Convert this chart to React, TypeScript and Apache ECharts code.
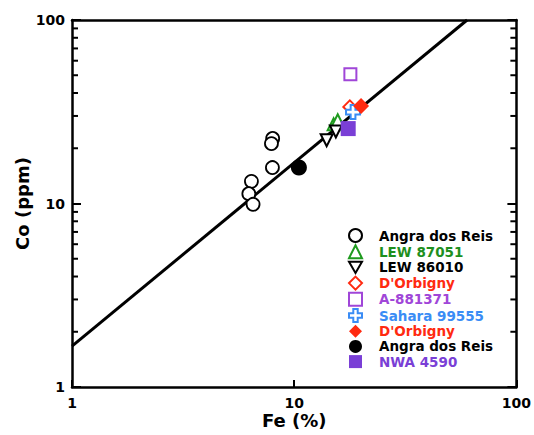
import React, { useEffect, useRef } from "react";
import * as echarts from "echarts";

// ---- data ----
const angraOpenFe = [8.0, 7.9, 7.98, 6.42, 6.25, 6.53];
const angraOpenCo = [22.6, 21.2, 15.7, 13.2, 11.3, 9.9];
const lew87051Fe = [15.05, 15.7];
const lew87051Co = [27.0, 28.4];
const lew86010Fe = [14.0, 15.4];
const lew86010Co = [22.1, 24.7];
const dorbOpenFe = [17.8];
const dorbOpenCo = [33.6];
const a881371Fe = [17.9];
const a881371Co = [50.7];
const saharaFe = [18.4];
const saharaCo = [31.5];
const dorbFilledFe = [20.0];
const dorbFilledCo = [34.0];
const angraFilledFe = [10.5];
const angraFilledCo = [15.7];
const nwaFe = [17.5];
const nwaCo = [25.6];

const trendFe = [1, 60];
const trendCo = [1.67, 100];

const minorCo = [2, 3, 4, 5, 6, 7, 8, 9, 20, 30, 40, 50, 60, 70, 80, 90];
const xTicks = [1, 10, 100];
const yTicks = [1, 10, 100];

const FONT = "DejaVu Sans";

const zip = (a: number[], b: number[]) => a.map((v, i) => [v, b[i]]);

const TRI_DOWN = "path://M0,0 L10,0 L5,8.66 Z";
const CROSS = "path://M3.3,0 H6.7 V3.3 H10 V6.7 H6.7 V10 H3.3 V6.7 H0 V3.3 H3.3 Z";

type Def = {
  id: string;
  label: string;
  fe: number[];
  co: number[];
  symbol: string;
  size: number;
  fill: string;
  stroke: string;
  bw: number;
  text: string;
};

const defs: Def[] = [
  { id: "Angra dos Reis", label: "Angra dos Reis", fe: angraOpenFe, co: angraOpenCo, symbol: "circle", size: 13, fill: "#ffffff", stroke: "#000000", bw: 1.8, text: "#000000" },
  { id: "LEW 87051", label: "LEW 87051", fe: lew87051Fe, co: lew87051Co, symbol: "triangle", size: 12, fill: "#ffffff", stroke: "#1e9a1e", bw: 2, text: "#1e8f1e" },
  { id: "LEW 86010", label: "LEW 86010", fe: lew86010Fe, co: lew86010Co, symbol: TRI_DOWN, size: 12, fill: "#ffffff", stroke: "#000000", bw: 2, text: "#000000" },
  { id: "D'Orbigny", label: "D'Orbigny", fe: dorbOpenFe, co: dorbOpenCo, symbol: "diamond", size: 13, fill: "#ffffff", stroke: "#ff2a10", bw: 2, text: "#ff2a10" },
  { id: "A-881371", label: "A-881371", fe: a881371Fe, co: a881371Co, symbol: "rect", size: 12, fill: "#ffffff", stroke: "#a046d8", bw: 2, text: "#a046d8" },
  { id: "Sahara 99555", label: "Sahara 99555", fe: saharaFe, co: saharaCo, symbol: CROSS, size: 14, fill: "#ffffff", stroke: "#3a8cf5", bw: 2, text: "#3a8cf5" },
  { id: "D'Orbigny ", label: "D'Orbigny", fe: dorbFilledFe, co: dorbFilledCo, symbol: "diamond", size: 16, fill: "#ff2a10", stroke: "#ff2a10", bw: 0, text: "#ff2a10" },
  { id: "Angra dos Reis ", label: "Angra dos Reis", fe: angraFilledFe, co: angraFilledCo, symbol: "circle", size: 16, fill: "#000000", stroke: "#000000", bw: 0, text: "#000000" },
  { id: "NWA 4590", label: "NWA 4590", fe: nwaFe, co: nwaCo, symbol: "rect", size: 15, fill: "#7a3fd6", stroke: "#7a3fd6", bw: 0, text: "#7a3fd6" },
];

export default function App() {
  const ref = useRef<HTMLDivElement>(null);

  useEffect(() => {
    document.body.style.margin = "0";
    if (!ref.current) return;
    const chart = echarts.init(ref.current, undefined, { renderer: "svg" });

    const labelStyle = { fontFamily: FONT, fontWeight: "bold" as const, fontSize: 14, color: "#000" };
    const nameStyle = { fontFamily: FONT, fontWeight: "bold" as const, fontSize: 18, color: "#000" };
    const lineStyle = { color: "#000", width: 2.5 };

    const scatterSeries = defs.map((d) => ({
      type: "scatter",
      name: d.id,
      xAxisIndex: 0,
      yAxisIndex: 0,
      symbol: d.symbol,
      symbolSize: d.size,
      data: zip(d.fe, d.co),
      itemStyle: { color: d.fill, borderColor: d.stroke, borderWidth: d.bw, opacity: 1 },
      emphasis: { disabled: true },
      z: 5,
    }));

    chart.setOption({
      animation: false,
      backgroundColor: "#ffffff",
      grid: { left: 72, right: 17, top: 20, bottom: 48, containLabel: false },
      legend: {
        orient: "vertical",
        left: 343,
        top: 223,
        itemWidth: 13,
        itemHeight: 13,
        itemGap: 1.2,
        selectedMode: false,
        formatter: (n: string) => n.trim(),
        textStyle: { fontFamily: FONT, fontWeight: "bold", fontSize: 13.5, lineHeight: 13, padding: [0, 0, 0, 12] },
        data: defs.map((d) => ({ name: d.id, textStyle: { color: d.text } })),
      },
      xAxis: [
        {
          type: "log",
          logBase: 10,
          min: 1,
          max: 100,
          position: "bottom",
          name: "Fe (%)",
          nameLocation: "middle",
          nameGap: 24,
          nameMoveOverlap: false,
          nameTextStyle: nameStyle,
          axisLine: { show: true, lineStyle },
          axisTick: { show: true, inside: true, length: 7, lineStyle: { color: "#000", width: 2 } },
          axisLabel: { ...labelStyle, margin: 9, customValues: xTicks },
          splitLine: { show: false },
          minorTick: { show: false },
        },
        {
          type: "log",
          logBase: 10,
          min: 1,
          max: 100,
          position: "top",
          axisLine: { show: true, onZero: false, lineStyle },
          axisTick: { show: false },
          axisLabel: { show: false },
          splitLine: { show: false },
        },
      ],
      yAxis: [
        {
          type: "log",
          logBase: 10,
          min: 1,
          max: 100,
          position: "left",
          name: "Co (ppm)",
          nameLocation: "middle",
          nameGap: 41,
          nameMoveOverlap: false,
          nameRotate: 90,
          nameTextStyle: nameStyle,
          axisLine: { show: true, lineStyle },
          axisTick: { show: true, inside: true, length: 9, lineStyle: { color: "#000", width: 2 } },
          axisLabel: { ...labelStyle, margin: 7, customValues: yTicks },
          splitLine: { show: false },
          minorTick: { show: false },
        },
        {
          type: "log",
          logBase: 10,
          min: 1,
          max: 100,
          position: "right",
          axisLine: { show: true, onZero: false, lineStyle },
          axisTick: { show: true, inside: true, length: 9, lineStyle: { color: "#000", width: 2 } },
          axisLabel: { show: false },
          splitLine: { show: false },
        },
      ],
      series: [
        {
          type: "custom",
          name: "minorTicks",
          xAxisIndex: 0,
          yAxisIndex: 0,
          silent: true,
          clip: false,
          data: minorCo.map((v) => [1, v]),
          renderItem: (params: any, api: any) => {
            const v = api.value(1);
            const pL = api.coord([1, v]);
            const pR = api.coord([100, v]);
            const st = { stroke: "#000", lineWidth: 2 };
            return {
              type: "group",
              children: [
                { type: "line", shape: { x1: pL[0], y1: pL[1], x2: pL[0] + 6, y2: pL[1] }, style: st },
                { type: "line", shape: { x1: pR[0], y1: pR[1], x2: pR[0] - 6, y2: pR[1] }, style: st },
              ],
            };
          },
          z: 3,
        },
        {
          type: "line",
          name: "trend",
          xAxisIndex: 0,
          yAxisIndex: 0,
          data: zip(trendFe, trendCo),
          showSymbol: false,
          symbol: "none",
          lineStyle: { color: "#000", width: 3 },
          emphasis: { disabled: true },
          silent: true,
          z: 2,
        },
        ...scatterSeries,
      ],
    });

    return () => chart.dispose();
  }, []);

  return (
    <div
      ref={ref}
      style={{ position: "absolute", left: 0, top: 0, width: 534, height: 435 }}
    />
  );
}
